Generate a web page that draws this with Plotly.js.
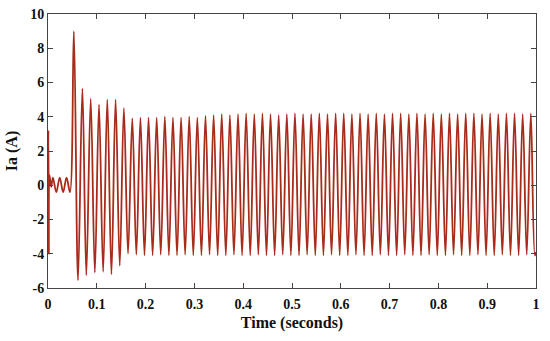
<!DOCTYPE html>
<html>
<head>
<meta charset="utf-8">
<script src="https://cdn.plot.ly/plotly-3.0.1.min.js"></script>
<style>html,body{margin:0;padding:0;background:#fff;}#chart{width:550px;height:341px;}</style>
</head>
<body>
<div id="chart"></div>
<script>
// Turning points (peaks / troughs) of the phase-a current
const timeSeconds = [
  0, 0.0008, 0.0017, 0.0030, 0.0065, 0.0100, 0.0170, 0.0240, 0.0310, 0.0380, 0.0450,
  0.0530, 0.0615, 0.0705, 0.0785, 0.0875, 0.0960, 0.1045, 0.1130, 0.1215, 0.1300,
  0.1385, 0.1470, 0.1555, 0.1640,
  0.1727, 0.1810, 0.1894, 0.1977, 0.2060, 0.2144, 0.2227, 0.2310, 0.2394, 0.2477,
  0.2560, 0.2644, 0.2727, 0.2810, 0.2894, 0.2977, 0.3060, 0.3144, 0.3227, 0.3310,
  0.3394, 0.3477, 0.3560, 0.3644, 0.3727, 0.3810, 0.3894, 0.3977, 0.4060, 0.4144,
  0.4227, 0.4310, 0.4394, 0.4477, 0.4560, 0.4644, 0.4727, 0.4810, 0.4894, 0.4977,
  0.5060, 0.5144, 0.5227, 0.5310, 0.5394, 0.5477, 0.5560, 0.5644, 0.5727, 0.5810,
  0.5894, 0.5977, 0.6060, 0.6144, 0.6227, 0.6310, 0.6394, 0.6477, 0.6560, 0.6644,
  0.6727, 0.6810, 0.6894, 0.6977, 0.7060, 0.7144, 0.7227, 0.7310, 0.7394, 0.7477,
  0.7560, 0.7644, 0.7727, 0.7810, 0.7894, 0.7977, 0.8060, 0.8144, 0.8227, 0.8310,
  0.8394, 0.8477, 0.8560, 0.8644, 0.8727, 0.8810, 0.8894, 0.8977, 0.9060, 0.9144,
  0.9227, 0.9310, 0.9394, 0.9477, 0.9560, 0.9644, 0.9727, 0.9810, 0.9894, 0.9977,
  1.0
];
const currentA = [
  0, 3.2, -4.0, 0.6, -0.1, 0.45, -0.4, 0.45, -0.4, 0.45, -0.4,
  9.0, -5.55, 5.65, -5.25, 5.05, -5.1, 4.7, -5.05, 5.0, -5.2,
  5.0, -4.7, 4.5, -4.0,
  3.9, -4.05, 3.95, -4.1, 3.95, -4.1, 3.95, -4.05, 4.0, -4.1,
  3.95, -4.1, 3.95, -4.05, 4.0, -4.1, 3.95, -4.1, 4.05, -4.05,
  4.1, -4.1, 4.15, -4.1, 4.1, -4.05, 4.15, -4.1, 4.2, -4.1,
  4.15, -4.05, 4.2, -4.1, 4.15, -4.1, 4.1, -4.05, 4.15, -4.1,
  4.2, -4.1, 4.15, -4.05, 4.15, -4.1, 4.2, -4.1, 4.15, -4.05,
  4.2, -4.1, 4.2, -4.1, 4.15, -4.05, 4.2, -4.1, 4.15, -4.1,
  4.2, -4.05, 4.15, -4.1, 4.2, -4.1, 4.2, -4.05, 4.15, -4.1,
  4.2, -4.1, 4.15, -4.05, 4.2, -4.1, 4.15, -4.1, 4.2, -4.05,
  4.15, -4.1, 4.2, -4.1, 4.2, -4.05, 4.15, -4.1, 4.2, -4.1,
  4.15, -4.05, 4.2, -4.1, 4.2, -4.1, 4.15, -4.05, 4.2, -4.1,
  -3.9
];
const xTickValues = [0, 0.1, 0.2, 0.3, 0.4, 0.5, 0.6, 0.7, 0.8, 0.9, 1];
const xTickLabels = ['0', '0.1', '0.2', '0.3', '0.4', '0.5', '0.6', '0.7', '0.8', '0.9', '1'];
const yTickValues = [-6, -4, -2, 0, 2, 4, 6, 8, 10];
const yTickLabels = ['-6', '-4', '-2', '0', '2', '4', '6', '8', '10'];
const xTitle = 'Time (seconds)';
const yTitle = 'Ia (A)';

const serif = 'Liberation Serif, Times New Roman, serif';

const trace = {
  x: timeSeconds,
  y: currentA,
  type: 'scatter',
  mode: 'lines',
  line: {color: '#a82c1c', width: 1.8, shape: 'spline', smoothing: 1},
  hoverinfo: 'skip'
};

const axisCommon = {
  showgrid: false,
  zeroline: false,
  showline: true,
  linecolor: '#444',
  linewidth: 1,
  mirror: 'ticks',
  ticks: 'inside',
  ticklen: 5,
  tickcolor: '#444',
  tickfont: {family: serif, size: 14, color: '#111', weight: 'bold'}
};

const bold = s => '<b>' + s + '</b>';

const layout = {
  width: 550,
  height: 341,
  margin: {l: 48, r: 14, t: 14, b: 53},
  paper_bgcolor: '#fff',
  plot_bgcolor: '#fff',
  showlegend: false,
  xaxis: Object.assign({}, axisCommon, {
    range: [0, 1],
    tickvals: xTickValues,
    ticktext: xTickLabels.map(bold),
    ticklabelstandoff: 3,
    title: {text: bold(xTitle), font: {family: serif, size: 16, color: '#111'}, standoff: 6}
  }),
  yaxis: Object.assign({}, axisCommon, {
    range: [-6, 10],
    tickvals: yTickValues,
    ticktext: yTickLabels.map(bold),
    title: {text: bold(yTitle), font: {family: serif, size: 16, color: '#111'}, standoff: 8}
  })
};

Plotly.newPlot('chart', [trace], layout, {staticPlot: true, displayModeBar: false});
</script>
</body>
</html>
